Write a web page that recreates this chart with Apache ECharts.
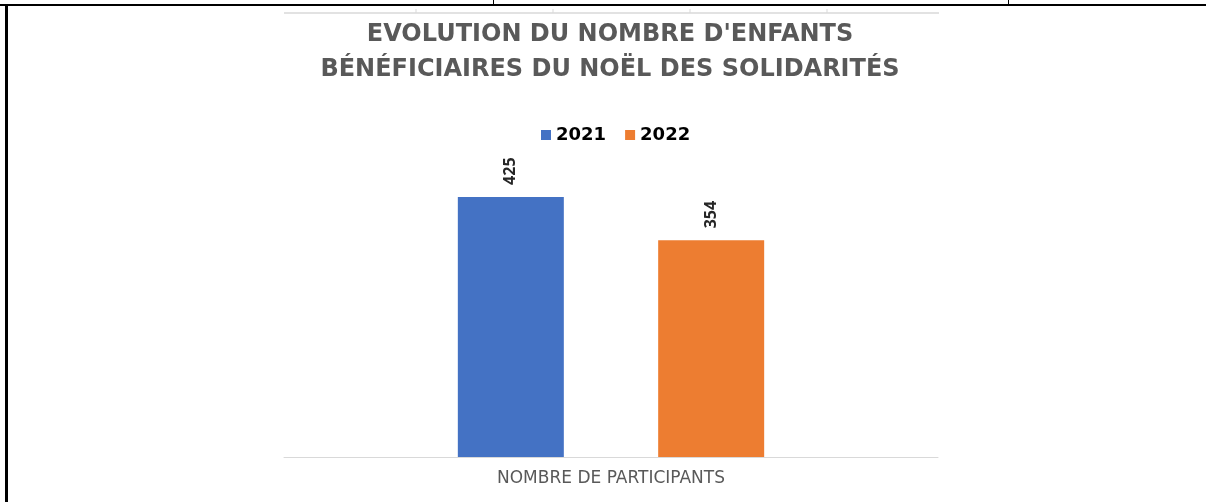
<!DOCTYPE html>
<html>
<head>
<meta charset="utf-8">
<script src="https://cdn.jsdelivr.net/npm/echarts@6/dist/echarts.min.js"></script>
<style>
  html, body { margin: 0; padding: 0; background: #fff; }
  #main { width: 1206px; height: 502px; }
</style>
</head>
<body>
<div id="main"></div>
<script>
// données du graphique
var categories = ['NOMBRE DE PARTICIPANTS'];
var seriesNames = ['2021', '2022'];
var values2021 = [425];
var values2022 = [354];
var seriesColors = ['#4472C4', '#ED7D31'];

var myChart = echarts.init(document.getElementById('main'));

var labelStyle = {
  show: true,
  position: 'top',
  rotate: 90,
  align: 'left',
  verticalAlign: 'middle',
  distance: 12,
  fontFamily: 'Open Sans',
  fontWeight: 'bold',
  fontSize: 16,
  color: '#262626'
};

var option = {
  animation: false,
  backgroundColor: '#ffffff',
  title: {
    text: "EVOLUTION DU NOMBRE D'ENFANTS\nBÉNÉFICIAIRES DU NOËL DES SOLIDARITÉS",
    left: 605,
    textAlign: 'center',
    top: 12,
    textStyle: {
      fontFamily: 'DejaVu Sans',
      fontWeight: 'bold',
      fontSize: 24,
      lineHeight: 35,
      color: '#595959'
    }
  },
  legend: {
    data: seriesNames,
    top: 121,
    left: 536,
    itemWidth: 10,
    itemHeight: 10,
    itemGap: 19,
    icon: 'rect',
    textStyle: {
      fontFamily: 'DejaVu Sans',
      fontWeight: 'bold',
      fontSize: 18,
      color: '#000000'
    }
  },
  grid: {
    left: 284,
    right: 268,
    top: 151,
    bottom: 45,
    containLabel: false
  },
  xAxis: {
    type: 'category',
    data: categories,
    axisLine: { lineStyle: { color: '#d9d9d9', width: 1 } },
    axisTick: { show: false },
    axisLabel: {
      margin: 13,
      fontFamily: 'DejaVu Sans',
      fontSize: 17,
      color: '#595959'
    }
  },
  yAxis: {
    type: 'value',
    min: 0,
    max: 500,
    show: false,
    splitLine: { show: false }
  },
  series: [
    {
      name: seriesNames[0],
      type: 'bar',
      data: values2021,
      barWidth: 106,
      barGap: '89%',
      itemStyle: { color: seriesColors[0] },
      label: labelStyle
    },
    {
      name: seriesNames[1],
      type: 'bar',
      data: values2022,
      barWidth: 106,
      itemStyle: { color: seriesColors[1] },
      label: labelStyle
    }
  ],
  // bordures du tableau autour du graphique
  graphic: [
    { type: 'rect', shape: { x: 0, y: 4, width: 1206, height: 2 }, style: { fill: '#000' } },
    { type: 'rect', shape: { x: 5, y: 4, width: 3, height: 498 }, style: { fill: '#000' } },
    { type: 'rect', shape: { x: 493, y: 0, width: 1, height: 5 }, style: { fill: '#000' } },
    { type: 'rect', shape: { x: 1008, y: 0, width: 1, height: 5 }, style: { fill: '#000' } },
    { type: 'line', shape: { x1: 284, y1: 13, x2: 939, y2: 13 }, style: { stroke: '#d9d9d9', lineWidth: 1.5 } },
    { type: 'line', shape: { x1: 416, y1: 9, x2: 416, y2: 13 }, style: { stroke: '#d9d9d9', lineWidth: 1 } },
    { type: 'line', shape: { x1: 553, y1: 9, x2: 553, y2: 13 }, style: { stroke: '#d9d9d9', lineWidth: 1 } },
    { type: 'line', shape: { x1: 690, y1: 9, x2: 690, y2: 13 }, style: { stroke: '#d9d9d9', lineWidth: 1 } },
    { type: 'line', shape: { x1: 827, y1: 9, x2: 827, y2: 13 }, style: { stroke: '#d9d9d9', lineWidth: 1 } }
  ]
};

myChart.setOption(option);
</script>
</body>
</html>
